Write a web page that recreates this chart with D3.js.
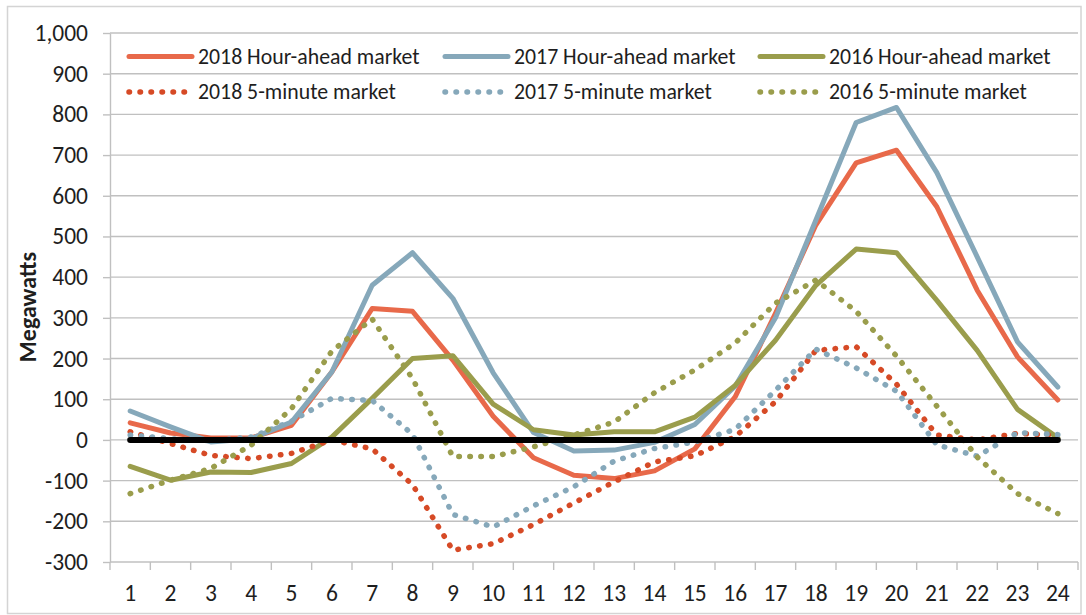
<!DOCTYPE html>
<html>
<head>
<meta charset="utf-8">
<script src="https://cdn.jsdelivr.net/npm/d3@7"></script>
<style>
  html, body { margin: 0; padding: 0; background: #fff; }
  svg text { font-family: Carlito, Lato, "Open Sans", sans-serif; fill: #1e1e1e; }
</style>
</head>
<body>
<svg id="chart" width="1086" height="615"></svg>
<script>
// hour of day
const hours = [1, 2, 3, 4, 5, 6, 7, 8, 9, 10, 11, 12, 13, 14, 15, 16, 17, 18, 19, 20, 21, 22, 23, 24];

// hour-ahead market (MW)
const ha2018 = [42, 17, 5, 5, 36, 167, 323, 316, 196, 58, -44, -87, -95, -76, -22, 106, 311, 528, 681, 712, 573, 368, 204, 98];
const ha2017 = [71, 32, -5, 3, 44, 167, 380, 460, 348, 165, 18, -27, -25, -6, 38, 132, 300, 540, 780, 817, 657, 450, 241, 130];
const ha2016 = [-65, -99, -79, -80, -58, 7, 102, 200, 207, 88, 25, 12, 20, 20, 56, 134, 245, 380, 469, 460, 343, 220, 75, 5];

// 5-minute market (MW)
const rt2018 = [20, -9, -38, -46, -33, 0, -22, -110, -271, -255, -208, -155, -103, -54, -39, 8, 94, 220, 229, 137, 12, 0, 16, 11];
const rt2017 = [12, 3, -2, 7, 46, 102, 97, 14, -183, -214, -162, -115, -52, -21, -5, 26, 122, 223, 177, 120, -12, -40, 18, 13];
const rt2016 = [-132, -99, -70, -13, 77, 218, 297, 151, -41, -41, -17, 12, 44, 116, 172, 238, 336, 393, 316, 206, 83, -42, -132, -181];

const zeroLine = [0, 0, 0, 0, 0, 0, 0, 0, 0, 0, 0, 0, 0, 0, 0, 0, 0, 0, 0, 0, 0, 0, 0, 0];

const yTicks = [-300, -200, -100, 0, 100, 200, 300, 400, 500, 600, 700, 800, 900, 1000];

const series = [
  { name: '2018 Hour-ahead market', values: ha2018, color: '#E8694A', dotted: false, row: 0, col: 0 },
  { name: '2017 Hour-ahead market', values: ha2017, color: '#86A8BA', dotted: false, row: 0, col: 1 },
  { name: '2016 Hour-ahead market', values: ha2016, color: '#9A9D4C', dotted: false, row: 0, col: 2 },
  { name: '2018 5-minute market', values: rt2018, color: '#D64A26', dotted: true, row: 1, col: 0 },
  { name: '2017 5-minute market', values: rt2017, color: '#86A8BA', dotted: true, row: 1, col: 1 },
  { name: '2016 5-minute market', values: rt2016, color: '#9A9D4C', dotted: true, row: 1, col: 2 }
];

const svg = d3.select('#chart');
const plot = { left: 110, right: 1078, top: 33, bottom: 562 };
const gridColor = '#C0C0C0';
const tickFont = 23.5;

// outer chart border
svg.append('rect')
  .attr('x', 7.5).attr('y', 6.5)
  .attr('width', 1073.5).attr('height', 607)
  .attr('fill', 'none')
  .attr('stroke', '#D4D4D4')
  .attr('stroke-width', 1.5);

const x = d3.scaleBand()
  .domain(hours)
  .range([plot.left, plot.right])
  .padding(0);

const y = d3.scaleLinear()
  .domain([-300, 1000])
  .range([plot.bottom, plot.top]);

const cx = d => x(d) + x.bandwidth() / 2;

// plain hyphen for negatives, like the original
const fmt = d => d3.format(',')(d).replace('\u2212', '-');

// horizontal gridlines
svg.append('g')
  .selectAll('line')
  .data(yTicks)
  .join('line')
  .attr('x1', plot.left).attr('x2', plot.right)
  .attr('y1', d => y(d)).attr('y2', d => y(d))
  .attr('stroke', gridColor)
  .attr('stroke-width', 1.4);

// y axis
const yAxis = svg.append('g')
  .attr('transform', `translate(${plot.left},0)`)
  .call(d3.axisLeft(y).tickValues(yTicks).tickFormat(fmt).tickSize(7).tickSizeOuter(0).tickPadding(15));
yAxis.select('.domain').attr('stroke', gridColor).attr('stroke-width', 1.4);
yAxis.selectAll('.tick line').attr('stroke', gridColor).attr('stroke-width', 1.4);
yAxis.selectAll('.tick text')
  .attr('font-size', tickFont)
  .style('font-family', 'Carlito, Lato, sans-serif')
  .attr('fill', '#1e1e1e');

// x axis labels
const xAxis = svg.append('g')
  .attr('transform', `translate(0,${plot.bottom})`)
  .call(d3.axisBottom(x).tickSize(0).tickPadding(22));
xAxis.select('.domain').remove();
xAxis.selectAll('.tick text')
  .attr('font-size', tickFont)
  .style('font-family', 'Carlito, Lato, sans-serif')
  .attr('fill', '#1e1e1e');

// x tick marks between categories
svg.append('g')
  .selectAll('line')
  .data(d3.range(hours.length + 1))
  .join('line')
  .attr('x1', i => plot.left + i * x.bandwidth())
  .attr('x2', i => plot.left + i * x.bandwidth())
  .attr('y1', plot.bottom).attr('y2', plot.bottom + 8)
  .attr('stroke', gridColor)
  .attr('stroke-width', 1.4);

// y axis title
svg.append('text')
  .attr('transform', 'translate(36,307) rotate(-90)')
  .attr('text-anchor', 'middle')
  .attr('font-size', 24)
  .attr('font-weight', 'bold')
  .text('Megawatts');

const line = d3.line()
  .x((d, i) => cx(hours[i]))
  .y(d => y(d));

function styleLine(sel, s) {
  sel.attr('fill', 'none')
    .attr('stroke', s.color)
    .attr('stroke-linejoin', 'round');
  if (s.dotted) {
    sel.attr('stroke-width', 5.5)
      .attr('stroke-linecap', 'round')
      .attr('stroke-dasharray', '0.5 10.5');
  } else {
    sel.attr('stroke-width', 5)
      .attr('stroke-linecap', 'round');
  }
}

// series lines
series.forEach(s => {
  svg.append('path')
    .datum(s.values)
    .attr('d', line)
    .call(styleLine, s);
});

// zero reference line
svg.append('path')
  .datum(zeroLine)
  .attr('d', line)
  .attr('fill', 'none')
  .attr('stroke', '#000')
  .attr('stroke-width', 6)
  .attr('stroke-linecap', 'round');

// legend
const legCols = [127, 443, 758];
const legRows = [56.5, 92];
series.forEach(s => {
  const lx = legCols[s.col];
  const ly = legRows[s.row];
  svg.append('line')
    .attr('x1', lx + 2).attr('x2', s.dotted ? lx + 60 : lx + 65)
    .attr('y1', ly).attr('y2', ly)
    .call(styleLine, s);
  svg.append('text')
    .attr('x', lx + 71)
    .attr('y', ly + 7)
    .attr('font-size', 21.8)
    .text(s.name);
});
</script>
</body>
</html>
